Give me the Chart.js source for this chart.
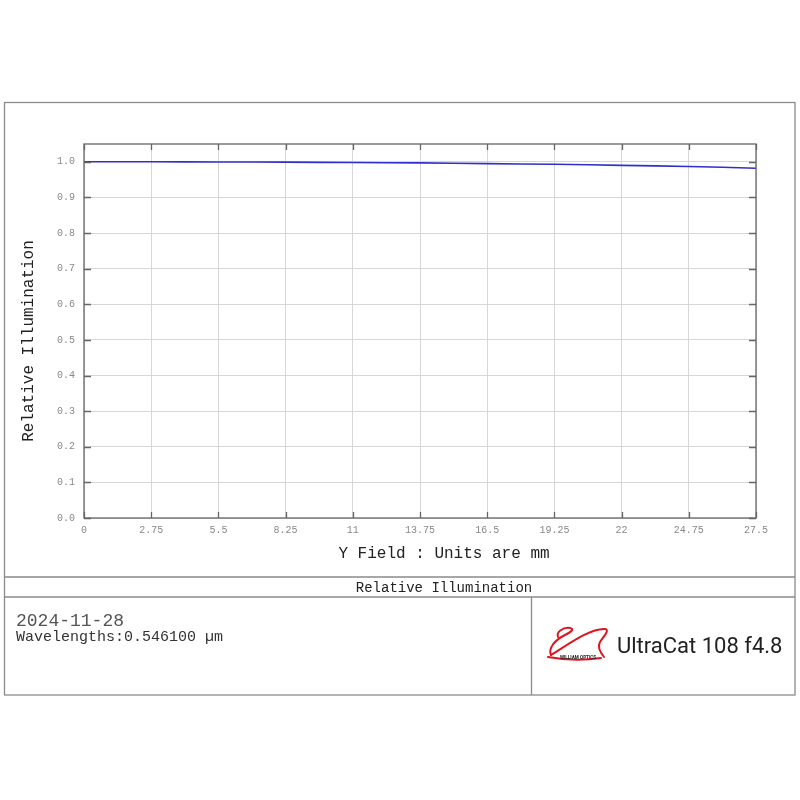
<!DOCTYPE html>
<html>
<head>
<meta charset="utf-8">
<script src="https://cdn.jsdelivr.net/npm/chart.js@4/dist/chart.umd.min.js"></script>
<style>
  html, body { margin: 0; padding: 0; background: #fff; }
  #wrap { position: relative; width: 800px; height: 800px; overflow: hidden; background: #fff; }
  #c { position: absolute; left: 0; top: 0; }
  .t { position: absolute; white-space: nowrap; font-family: "Liberation Mono", "DejaVu Sans Mono", monospace; }
  svg { position: absolute; left: 0; top: 0; }
</style>
</head>
<body>
<div id="wrap">
  <canvas id="c" width="800" height="800"></canvas>
  <svg width="800" height="800" viewBox="0 0 800 800">
    <g fill="none" stroke="#8a8a8a" stroke-width="1.3">
      <rect x="4.5" y="102.5" width="790.5" height="592.5"/>
      <line x1="4.5" y1="577" x2="795" y2="577"/>
      <line x1="4.5" y1="597" x2="795" y2="597"/>
      <line x1="531.5" y1="597" x2="531.5" y2="695"/>
    </g>
    <g fill="none" stroke="#e0141e" stroke-width="2" stroke-linecap="round">
      <path d="M551,655 C548,648 555,640 565,635 C571,632 575,629 570,628 C563,627 556,632 558,637"/>
      <path d="M551,655 C566,646 590,628 605,629 C610,630 604,636 600,642 C597,647 600,652 604,657"/>
      <path d="M548,657 Q575,662 601,658"/>
    </g>
    <text x="560" y="658.5" font-family="Roboto, 'Noto Sans', sans-serif" font-size="4.6" font-weight="bold" fill="#222">WILLIAM OPTICS</text>
  </svg>
  <div class="t" id="ytitle" style="left:29px; top:341px; font-size:16px; line-height:16px; color:#222; transform: translate(-50%,-50%) rotate(-90deg);">Relative Illumination</div>
  <div class="t" id="xtitle" style="left:444px; top:546px; font-size:16px; line-height:16px; color:#222; transform: translateX(-50%);">Y Field : Units are mm</div>
  <div class="t" style="left:444px; top:581px; font-size:14px; line-height:14px; color:#222; transform: translateX(-50%);">Relative Illumination</div>
  <div class="t" style="left:16px; top:612px; font-size:18px; line-height:18px; color:#555;">2024-11-28</div>
  <div class="t" style="left:16px; top:630px; font-size:15px; line-height:15px; color:#333;">Wavelengths:0.546100 µm</div>
  <div class="t" style="left:617px; top:635px; font-size:22px; line-height:22px; color:#222; font-family: Roboto, 'Noto Sans', sans-serif;">UltraCat 108 f4.8</div>
</div>
<script>
// ---- data ----
const fieldMm = [0, 2.75, 5.5, 8.25, 11, 13.75, 16.5, 19.25, 22, 24.75, 27.5];
const relIllum = [1.0, 1.0, 0.9995, 0.999, 0.998, 0.997, 0.995, 0.993, 0.990, 0.987, 0.982];
const xTicks = [0, 2.75, 5.5, 8.25, 11, 13.75, 16.5, 19.25, 22, 24.75, 27.5];
const yTicks = [0.0, 0.1, 0.2, 0.3, 0.4, 0.5, 0.6, 0.7, 0.8, 0.9, 1.0];

const frameTicks = {
  id: 'frameTicks',
  afterDraw(chart) {
    const ctx = chart.ctx, a = chart.chartArea;
    const xs = chart.scales.x, ys = chart.scales.y;
    ctx.save();
    ctx.strokeStyle = '#666';
    ctx.lineWidth = 1.3;
    ctx.strokeRect(a.left, a.top, a.right - a.left, a.bottom - a.top);
    ctx.beginPath();
    xTicks.forEach(v => {
      const px = Math.round(xs.getPixelForValue(v)) + 0.5;
      ctx.moveTo(px, a.bottom); ctx.lineTo(px, a.bottom - 6);
      ctx.moveTo(px, a.top); ctx.lineTo(px, a.top + 6);
    });
    yTicks.forEach(v => {
      const py = Math.round(ys.getPixelForValue(v)) + 0.5;
      ctx.moveTo(a.left, py); ctx.lineTo(a.left + 7, py);
      ctx.moveTo(a.right, py); ctx.lineTo(a.right - 7, py);
    });
    ctx.stroke();
    ctx.restore();
  }
};

new Chart(document.getElementById('c'), {
  type: 'line',
  data: {
    datasets: [{
      data: fieldMm.map((x, i) => ({ x: x, y: relIllum[i] })),
      borderColor: '#2f2fcc',
      borderWidth: 1.6,
      pointRadius: 0,
      tension: 0.3,
      fill: false
    }]
  },
  options: {
    responsive: false,
    animation: false,
    devicePixelRatio: 1,
    layout: { padding: { top: 144, right: 44, left: 0, bottom: 0 } },
    plugins: { legend: { display: false }, tooltip: { enabled: false } },
    scales: {
      x: {
        type: 'linear', min: 0, max: 27.5,
        afterBuildTicks: s => { s.ticks = xTicks.map(v => ({ value: v })); },
        afterFit: s => { s.height = 282; },
        grid: { color: '#d6d6d6', lineWidth: 1, drawTicks: false },
        border: { display: false },
        ticks: {
          padding: 6, color: '#888', maxRotation: 0, autoSkip: false,
          font: { family: 'Liberation Mono', size: 10 },
          callback: v => String(v)
        }
      },
      y: {
        type: 'linear', min: 0, max: 1.05,
        afterBuildTicks: s => { s.ticks = yTicks.map(v => ({ value: v })); },
        afterFit: s => { s.width = 84; },
        grid: { color: '#d6d6d6', lineWidth: 1, drawTicks: false },
        border: { display: false },
        ticks: {
          padding: 9, color: '#888', autoSkip: false,
          font: { family: 'Liberation Mono', size: 10 },
          callback: v => v.toFixed(1)
        }
      }
    }
  },
  plugins: [frameTicks]
});
</script>
</body>
</html>
